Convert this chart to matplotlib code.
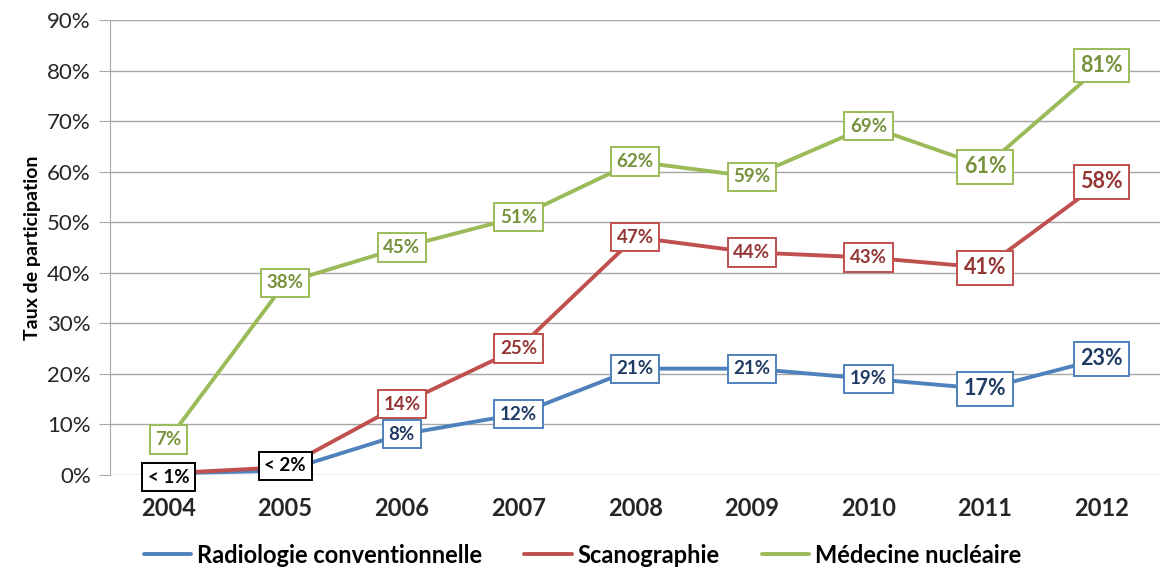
import matplotlib.pyplot as plt
from matplotlib.ticker import FuncFormatter

plt.rcParams['font.family'] = ['Lato', 'DejaVu Sans']

annees = ['2004', '2005', '2006', '2007', '2008', '2009', '2010', '2011', '2012']
radio = [0.3, 0.8, 8, 12, 21, 21, 19, 17, 23]
scano = [0.3, 1.5, 14, 25, 47, 44, 43, 41, 58]
nucl = [7, 38, 45, 51, 62, 59, 69, 61, 81]

# labels shown in boxes (None = no box); 2004/2005 grouped in black boxes
radio_lab = [None, None, '8%', '12%', '21%', '21%', '19%', '17%', '23%']
scano_lab = [None, None, '14%', '25%', '47%', '44%', '43%', '41%', '58%']
nucl_lab = ['7%', '38%', '45%', '51%', '62%', '59%', '69%', '61%', '81%']
bas_lab = ['< 1%', '< 2%']
bas_y = [-0.5, 1.8]
gros = {'17%', '41%', '61%', '58%', '81%', '23%'}

series = [
    ('Radiologie conventionnelle', radio, radio_lab, '#4F81BD', '#1F3B63'),
    ('Scanographie', scano, scano_lab, '#C0504D', '#943634'),
    ('Médecine nucléaire', nucl, nucl_lab, '#9BBB59', '#76923C'),
]

fig = plt.figure(figsize=(11.6, 5.72), dpi=100)
ax = fig.add_axes([0.095, 0.17, 0.905, 0.795])

x = list(range(len(annees)))
for nom, vals, labs, col, tcol in series:
    ax.plot(x, vals, color=col, lw=2.8, label=nom, solid_capstyle='round', zorder=3)
    for i, (v, l) in enumerate(zip(vals, labs)):
        if l is None:
            continue
        ax.text(i, v, l, ha='center', va='center', fontsize=15.5 if l in gros else 13.5,
                fontweight='bold', color=tcol, zorder=5,
                bbox=dict(boxstyle='square,pad=0.3', fc='white', ec=col, lw=1.4))

for i, (l, y) in enumerate(zip(bas_lab, bas_y)):
    ax.text(i, y, l, ha='center', va='center', fontsize=13.5, fontweight='bold',
            color='black', zorder=5,
            bbox=dict(boxstyle='square,pad=0.3', fc='white', ec='black', lw=1.4))

ax.set_xlim(-0.5, 8.5)
ax.set_ylim(0, 90)
ax.set_yticks(range(0, 91, 10))
ax.yaxis.set_major_formatter(FuncFormatter(lambda v, p: '%d%%' % v))
ax.set_xticks(x)
ax.set_xticklabels(annees, fontweight='bold')
ax.grid(axis='y', color='#A6A6A6', lw=1)
ax.set_axisbelow(True)
for s in ['top', 'right', 'bottom']:
    ax.spines[s].set_visible(False)
ax.spines['left'].set_color('#A6A6A6')
ax.tick_params(axis='y', colors='#A6A6A6', labelcolor='#262626', labelsize=16, length=8, pad=6)
ax.tick_params(axis='x', length=0, labelsize=17, labelcolor='#262626', pad=16)
ax.set_ylabel('Taux de participation', fontsize=14, fontweight='bold', labelpad=4)

ax.legend(loc='upper center', bbox_to_anchor=(0.45, -0.105), ncol=3, frameon=False,
          prop={'weight': 'bold', 'size': 17}, handlelength=2.0, handletextpad=0.25,
          columnspacing=1.8)

fig.savefig('out.png', dpi=100)
